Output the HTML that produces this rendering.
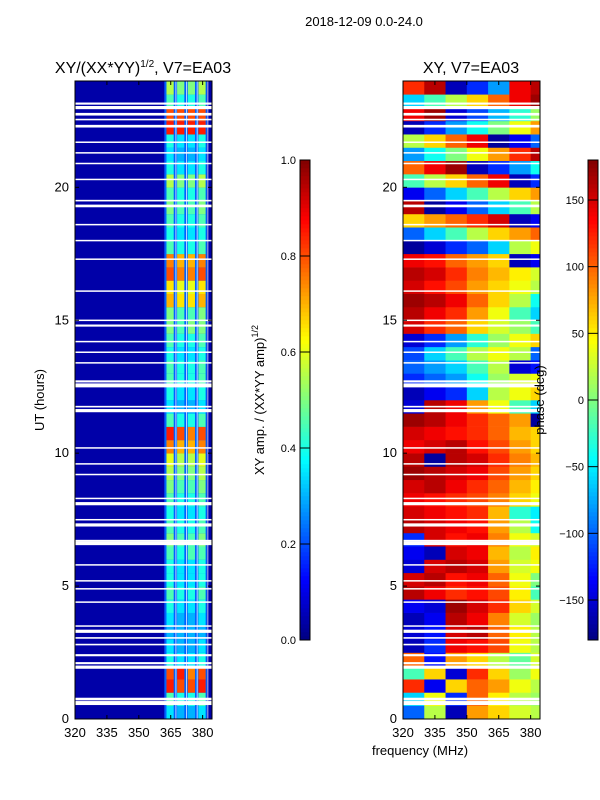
<!DOCTYPE html>
<html><head><meta charset="utf-8"><style>
body{margin:0;background:#fff;}
svg{display:block;font-family:"Liberation Sans",sans-serif;}
</style></head><body>
<svg id="fig" width="600" height="800" viewBox="0 0 600 800">
<text x="364" y="26" font-size="13" text-anchor="middle">2018-12-09 0.0-24.0</text>
<text x="143" y="73" font-size="16" text-anchor="middle">XY/(XX*YY)<tspan font-size="10" dy="-6">1/2</tspan><tspan dy="6">, V7=EA03</tspan></text>
<text x="471" y="73" font-size="16" text-anchor="middle">XY, V7=EA03</text>
<g id="left"></g>
<g id="right"></g>
<g id="axes"></g>
<text x="44" y="400" font-size="13" text-anchor="middle" transform="rotate(-90 44 400)">UT (hours)</text>
<text x="420" y="755" font-size="13" text-anchor="middle">frequency (MHz)</text>
<text x="264" y="400" font-size="13" text-anchor="middle" transform="rotate(-90 264 400)">XY amp. / (XX*YY amp)<tspan font-size="9" dy="-6">1/2</tspan></text>
<text x="544" y="400" font-size="13" text-anchor="middle" transform="rotate(-90 544 400)">phase (deg)</text>
</svg>
<script>
// ---- data ----
const ampChannels = [365, 370, 375, 380];
const ampRowsUT = 48;
const ampValues = [
[0.35,0.3,0.3,0.35],[0.45,0.4,0.4,0.45],[0.85,0.8,0.8,0.85],[0.8,0.85,0.75,0.8],[0.4,0.35,0.35,0.4],[0.35,0.3,0.3,0.35],
[0.3,0.3,0.3,0.3],[0.35,0.3,0.3,0.35],[0.4,0.35,0.35,0.4],[0.45,0.4,0.4,0.45],[0.4,0.35,0.35,0.4],[0.4,0.35,0.35,0.4],
[0.45,0.4,0.45,0.45],[0.5,0.45,0.45,0.5],[0.45,0.4,0.4,0.45],[0.4,0.35,0.35,0.4],[0.45,0.4,0.4,0.45],[0.5,0.45,0.45,0.5],
[0.55,0.5,0.5,0.55],[0.6,0.55,0.55,0.6],[0.75,0.7,0.7,0.75],[0.85,0.8,0.75,0.8],[0.45,0.4,0.4,0.45],[0.35,0.3,0.3,0.35],
[0.4,0.35,0.35,0.4],[0.45,0.4,0.4,0.45],[0.45,0.4,0.4,0.45],[0.4,0.35,0.35,0.4],[0.45,0.4,0.4,0.45],[0.5,0.45,0.5,0.5],
[0.5,0.45,0.45,0.5],[0.7,0.65,0.65,0.7],[0.65,0.6,0.6,0.65],[0.8,0.75,0.75,0.8],[0.75,0.7,0.7,0.75],[0.45,0.4,0.4,0.45],
[0.4,0.35,0.35,0.4],[0.45,0.4,0.4,0.45],[0.5,0.45,0.45,0.5],[0.45,0.4,0.4,0.45],[0.55,0.5,0.5,0.55],[0.4,0.35,0.35,0.4],
[0.35,0.3,0.3,0.35],[0.4,0.35,0.35,0.4],[0.85,0.85,0.85,0.85],[0.8,0.8,0.8,0.8],[0.45,0.4,0.4,0.45],[0.55,0.5,0.5,0.55]];
const phaseSegFreq = [320,330,340,350,360,370,380,384];
const phaseValues = [
[-100,20,-160,80,60,30,20],[-60,40,-120,100,50,20,10],[120,-140,60,100,80,40,20],[-20,60,-150,120,60,10,40],[100,-130,80,60,20,-10,30],[-160,-120,140,130,110,40,20],
[-150,-130,150,160,100,50,20],[-160,-140,160,140,90,30,10],[-140,-150,170,150,120,60,30],[160,140,120,130,110,50,-20],[150,160,130,140,100,40,0],[-150,150,160,150,80,30,40],
[-140,-160,150,140,70,20,50],[-120,150,130,140,90,40,30],[160,150,140,130,80,20,-40],[150,140,130,120,70,-30,-50],[140,130,120,110,90,60,40],[150,160,140,120,100,70,50],
[170,160,150,140,110,80,60],[160,-170,160,150,120,90,70],[140,150,160,130,110,80,60],[150,140,130,120,100,70,60],[170,160,140,120,100,80,-170],[-150,160,140,80,40,-20,-60],
[-160,-140,-120,-60,20,40,60],[-120,-100,-80,-40,10,30,40],[-100,-80,-60,-20,20,-150,-130],[-110,-60,-20,20,40,20,-100],[-150,-120,-80,-30,10,40,60],[150,120,100,60,30,10,-20],
[160,140,120,80,40,-20,-60],[170,160,140,100,60,20,-40],[150,130,110,80,60,40,20],[160,150,120,90,70,50,30],[140,130,100,80,60,-160,-140],[-170,-150,-120,-100,-60,20,40],
[-100,-60,-20,20,60,80,100],[60,80,100,120,150,-160,-140],[160,-170,-140,-100,-60,-20,20],[-140,-100,-60,-20,20,60,80],[-20,20,60,100,140,-160,-120],[100,140,170,-160,-120,-80,-40],
[-80,-40,0,40,80,120,160],[20,60,100,140,-170,-140,-100],[-160,-120,-80,-40,0,40,80],[140,170,-150,-110,-70,-30,10],[-60,-20,20,60,100,140,170],[120,160,-160,-120,-80,140,160]];
const flaggedUT = [0.6,0.75,1.95,2.1,2.4,2.8,3.05,3.3,3.5,4.4,4.9,5.2,5.8,6.6,6.7,7.3,7.5,8.1,8.3,9.2,9.6,10.2,11.6,11.75,12.55,12.7,13.4,13.8,14.2,14.8,15.0,16.1,17.3,18.0,18.6,19.3,19.5,20.3,20.9,21.3,21.7,22.3,22.55,22.75,23.0,23.15];
const flaggedWidth = [0.15,0.1,0.12,0.08,0.08,0.06,0.06,0.12,0.05,0.05,0.05,0.05,0.05,0.12,0.08,0.12,0.05,0.12,0.05,0.05,0.05,0.05,0.12,0.06,0.15,0.08,0.05,0.05,0.05,0.08,0.05,0.05,0.05,0.05,0.05,0.1,0.06,0.05,0.05,0.05,0.05,0.1,0.06,0.1,0.12,0.08];
const utTicks = [0,5,10,15,20];
const freqTicks = [320,335,350,365,380];
const ampTicks = [0,0.2,0.4,0.6,0.8,1.0];
const phaseTicks = [-150,-100,-50,0,50,100,150];

// ---- helpers ----
const NS="http://www.w3.org/2000/svg";
function jet(v){v=Math.max(0,Math.min(1,v));
 const c=x=>Math.round(255*Math.max(0,Math.min(1,x)));
 return `rgb(${c(1.5-Math.abs(4*v-3))},${c(1.5-Math.abs(4*v-2))},${c(1.5-Math.abs(4*v-1))})`;}
function mk(tag,attrs,parent){const e=document.createElementNS(NS,tag);for(const k in attrs)e.setAttribute(k,attrs[k]);parent.appendChild(e);return e;}
const panels=[{x0:75,x1:212},{x0:403,x1:540}];
const yT=t=>719-t*(638/24);
const xF=(p,f)=>p.x0+(f-320)*(p.x1-p.x0)/64.4;
const plotTop=81,plotBot=719;
const LG=document.getElementById('left'),RG=document.getElementById('right'),AG=document.getElementById('axes');

let bg=mk('rect',{x:75,y:plotTop,width:137,height:638,fill:jet(0.04)},LG);


const pL=panels[0];
ampValues.forEach((row,i)=>{
 const y0=yT((i+1)*24/ampRowsUT),y1=yT(i*24/ampRowsUT);
 let r=mk('rect',{x:xF(pL,362),y:y0,width:xF(pL,382)-xF(pL,362),height:y1-y0+0.3,fill:jet(0.22)},LG);
 
 
 row.forEach((v,j)=>{
  const f=ampChannels[j];
  let c=mk('rect',{x:xF(pL,f-2),y:y0,width:xF(pL,f+1.4)-xF(pL,f-2),height:y1-y0+0.3,fill:jet(v)},LG);
  
  
 });
});
ampChannels.forEach(f=>{
 let d=mk('rect',{x:xF(pL,f+2.2),y:plotTop,width:1,height:plotBot-plotTop,fill:'#e8f4ff',opacity:0.8},LG);
 
 
});
const pR=panels[1];
phaseValues.forEach((row,i)=>{
 const y0=yT((i+1)*24/ampRowsUT),y1=yT(i*24/ampRowsUT);
 row.forEach((ph,j)=>{
  const xa=xF(pR,phaseSegFreq[j]),xb=xF(pR,phaseSegFreq[j+1]);
  let c=mk('rect',{x:xa,y:y0,width:xb-xa+0.5,height:y1-y0+0.3,fill:jet((ph+180)/360)},RG);
  
  
 });
});
flaggedUT.forEach((t,i)=>{
 panels.forEach(p=>{
  const ya=yT(t+flaggedWidth[i]/2),yb=yT(t-flaggedWidth[i]/2);
  let w=mk('rect',{x:p.x0,y:ya,width:p.x1-p.x0,height:Math.max(1.5,yb-ya),fill:'#fff'},p===pL?LG:RG);
  
  
 });
});
panels.forEach(p=>{
 let fr=mk('rect',{x:p.x0,y:plotTop,width:p.x1-p.x0,height:plotBot-plotTop,fill:'none',stroke:'#000','stroke-width':1},AG);
 
 
 utTicks.forEach(t=>{
  const y=yT(t);
  mk('line',{x1:p.x0,x2:p.x0+4,y1:y,y2:y,stroke:'#000'},AG);
  mk('line',{x1:p.x1,x2:p.x1-4,y1:y,y2:y,stroke:'#000'},AG);
  let tx=mk('text',{x:p.x0-6,y:y+4,'font-size':13,'text-anchor':'end'},AG);tx.textContent=t;
  
  
 });
 freqTicks.forEach(f=>{
  const x=xF(p,f);
  mk('line',{x1:x,x2:x,y1:plotBot,y2:plotBot-4,stroke:'#000'},AG);
  mk('line',{x1:x,x2:x,y1:plotTop,y2:plotTop+4,stroke:'#000'},AG);
  let tx=mk('text',{x:x,y:737,'font-size':13,'text-anchor':'middle'},AG);tx.textContent=f;
  
  
 });
});
function colorbar(x,ticks,lo,hi,name,fmt){
 const g=mk('g',{},AG);
 
 
 for(let i=0;i<120;i++){mk('rect',{x:x,y:640-(i+1)*4,width:10,height:4.3,fill:jet((i+0.5)/120)},g);}
 mk('rect',{x:x,y:160,width:10,height:480,fill:'none',stroke:'#000'},g);
 ticks.forEach(v=>{
  const y=640-(v-lo)/(hi-lo)*480;
  mk('line',{x1:x,x2:x+10,y1:y,y2:y,stroke:'#000'},g);
  let tx=mk('text',{x:x-4,y:y+4,'font-size':11,'text-anchor':'end'},g);tx.textContent=fmt(v);
  
  
 });
}
colorbar(300,ampTicks,0,1,'amp-colorbar',v=>v.toFixed(1));
colorbar(588,phaseTicks,-180,180,'phase-colorbar',v=>v<0?'\u2212'+(-v):''+v);
</script>
</body></html>
